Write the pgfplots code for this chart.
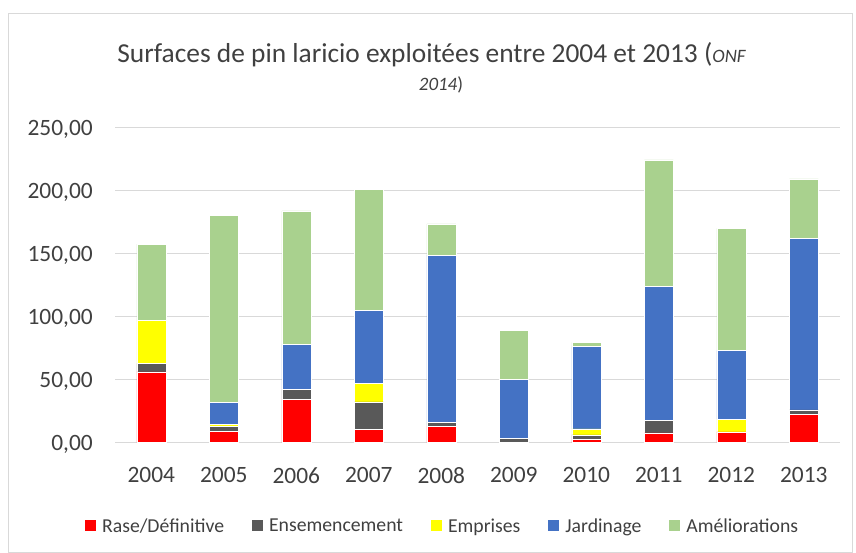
\documentclass[border=0pt]{standalone}
\usepackage{pgfplots}
\pgfplotsset{compat=1.18}
\usepackage{pgfplotstable}
\usepackage{fontspec}
\setmainfont{Carlito}
\definecolor{cRase}{HTML}{FF0000}
\definecolor{cEns}{HTML}{595959}
\definecolor{cEmp}{HTML}{FFFF00}
\definecolor{cJar}{HTML}{4472C4}
\definecolor{cAme}{HTML}{A9D18E}
\definecolor{cGrid}{HTML}{D9D9D9}
\definecolor{cText}{HTML}{404040}
\pgfplotstableread{
x rase ens emp jar ame
0 56.3 6.7 33.8 0 60.9
1 9.0 4.0 1.8 17.3 148.6
2 34.4 8.0 0 35.7 105.8
3 10.6 21.9 14.3 58.5 96.0
4 12.7 3.2 0 133.0 24.7
5 0 3.5 0 46.8 39.1
6 2.7 3.6 4.6 65.3 3.5
7 7.9 9.6 0 106.3 100.6
8 8.5 0 10.3 54.2 97.2
9 22.2 3.8 0 135.9 47.4
}\datatable
\begin{document}
\begin{tikzpicture}
\path[use as bounding box] (0,0) rectangle (856bp,-553bp);
\draw[color=cGrid, line width=1bp] (8bp,-13bp) rectangle (852bp,-552bp);
\node[anchor=base, text=cText, font=\fontsize{27.5}{33}\selectfont] at (431.5bp,-62bp) {Surfaces de pin laricio exploitées entre 2004 et 2013 ({\fontsize{19}{23}\selectfont\itshape ONF}};
\node[anchor=base, text=cText, font=\fontsize{19}{23}\selectfont] at (441bp,-90bp) {\textit{2014})};
\begin{axis}[
  at={(115bp,-442.7bp)}, anchor=south west,
  scale only axis, width=725bp, height=315bp,
  xmin=-0.5, xmax=9.5, ymin=0, ymax=250,
  ybar stacked, bar width=29bp,
  axis line style={draw=none},
  major tick length=0pt,
  xtick={0,...,9},
  xticklabels={2004,2005,2006,2007,2008,2009,2010,2011,2012,2013},
  ytick={0,50,100,150,200,250},
  ymajorgrids,
  grid style={color=cGrid, line width=1.3bp},
  tick label style={font=\fontsize{23.5}{27}\selectfont, text=cText},
  /pgf/number format/assume math mode=true,
  yticklabel style={/pgf/number format/.cd, fixed, fixed zerofill, precision=2, use comma, /tikz/.cd, anchor=base east, inner sep=0pt, xshift=-22bp, yshift=-7.5bp},
  xticklabel style={anchor=north, inner sep=0pt, yshift=-24.3bp},
  every axis plot/.append style={draw=white, line width=0.5bp},
  legend style={at={(-0.0414,-0.2644)}, anchor=west, draw=none, fill=none, inner sep=0pt,
    legend columns=5, font=\fontsize{19.8}{23}\selectfont, text=cText,
    /tikz/every odd column/.append style={column sep=4bp},
    /tikz/every even column/.append style={column sep=26bp}},
  legend cell align=left,
  legend image code/.code={\path[#1, draw=none] (0bp,-5.5bp) rectangle (11bp,5.5bp);},
]
\addplot[fill=cRase] table[x=x, y=rase] {\datatable};
\addplot[fill=cEns] table[x=x, y=ens] {\datatable};
\addplot[fill=cEmp] table[x=x, y=emp] {\datatable};
\addplot[fill=cJar] table[x=x, y=jar] {\datatable};
\addplot[fill=cAme] table[x=x, y=ame] {\datatable};
\legend{Rase/Définitive, Ensemencement, Emprises, Jardinage, Améliorations}
\end{axis}
\end{tikzpicture}
\end{document}
